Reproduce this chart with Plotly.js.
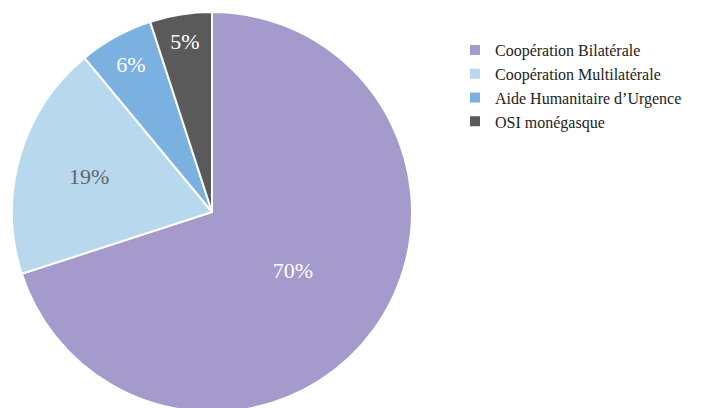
<!DOCTYPE html>
<html>
<head>
<meta charset="utf-8">
<script src="https://cdn.plot.ly/plotly-3.0.1.min.js"></script>
<style>
html,body{margin:0;padding:0;overflow:hidden;background:#fff;}
#chart{width:716px;height:424px;}
</style>
</head>
<body>
<div id="chart"></div>
<script>
const categories = ["Coopération Bilatérale", "Coopération Multilatérale", "Aide Humanitaire d’Urgence", "OSI monégasque"];
const values = [70, 19, 6, 5];
const sliceColors = ["#A59ACC", "#B8D8EE", "#7BB1E1", "#5A5A5A"];
const labelColors = ["#ffffff", "#666666", "#ffffff", "#ffffff"];

const W = 716, H = 424;
const SERIF = "'Liberation Serif', 'Times New Roman', serif";
const trace = {
  type: "pie",
  labels: categories,
  values: values,
  sort: false,
  direction: "clockwise",
  rotation: 0,
  marker: {colors: sliceColors, line: {color: "#ffffff", width: 2}},
  textinfo: "percent",
  texttemplate: "%{percent:.0%}",
  textposition: "inside",
  insidetextorientation: "horizontal",
  textfont: {family: SERIF, size: 22, color: labelColors},
  hoverinfo: "label+percent",
  domain: {x: [12 / W, 412 / W], y: [0, 1]}
};

const layout = {
  width: W,
  height: H,
  margin: {l: 0, r: 0, t: 0, b: 0},
  paper_bgcolor: "#ffffff",
  showlegend: true,
  legend: {
    x: 455 / W,
    xanchor: "left",
    y: 1 - 33 / H,
    yanchor: "top",
    font: {family: SERIF, size: 16, color: "#222222"},
    tracegroupgap: 0,
    bgcolor: "rgba(0,0,0,0)"
  }
};

Plotly.newPlot("chart", [trace], layout, {displayModeBar: false, staticPlot: true});
</script>
</body>
</html>
